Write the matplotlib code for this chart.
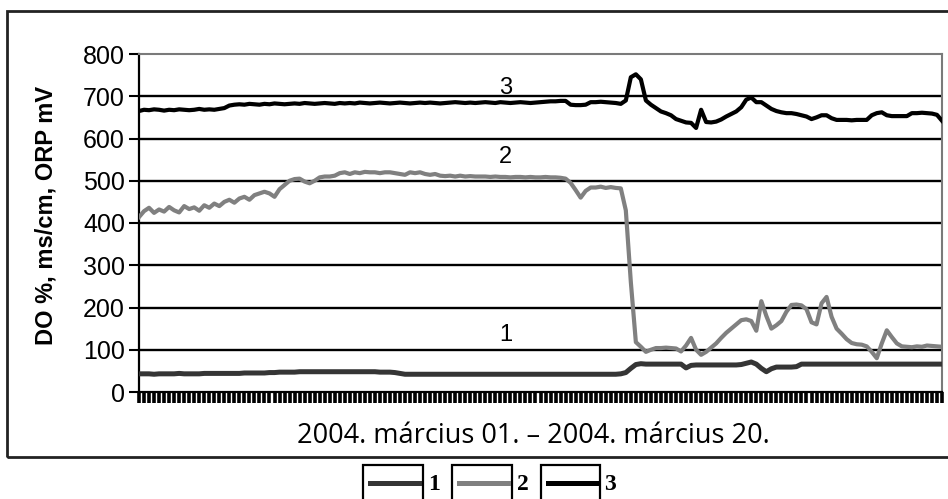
import matplotlib
matplotlib.use('Agg')
import matplotlib.pyplot as plt
from matplotlib.patches import Rectangle
from matplotlib.lines import Line2D
import numpy as np

# ---------------- data ----------------
yticks = [0, 100, 200, 300, 400, 500, 600, 700, 800]
ytick_labels = ["0", "100", "200", "300", "400", "500", "600", "700", "800"]
series_names = ["1", "2", "3"]
xlabel = "2004. március 01. – 2004. március 20."
ylabel = "DO %, ms/cm, ORP mV"

# series 1: DO %
s1 = [43, 43, 43, 42, 43, 43, 43, 43, 44, 43, 43, 43, 43, 44, 44, 44, 44, 44,
      44, 44, 44, 45, 45, 45, 45, 45, 46, 46, 47, 47,
      47, 47, 48, 48, 48, 48, 48, 48, 48, 48, 48, 48,
      48, 48, 48, 48, 48, 48, 47, 47, 47, 46, 44, 42,
      42, 42, 42, 42, 42, 42, 42, 42, 42, 42, 42, 42,
      42, 42, 42, 42, 42, 42, 42, 42, 42, 42, 42, 42,
      42, 42, 42, 42, 42, 42,
      42, 42, 42, 42, 42, 42, 42, 42, 42, 42, 42, 42, 43, 46,
      56, 65, 67, 66,
      66, 66, 66, 66, 66, 66, 66, 57, 63, 64, 64, 64,
      64, 64, 64, 64, 64, 64, 65, 68, 71, 66, 56, 48,
      55, 59, 59, 59, 59, 60, 66, 66, 66, 66, 66, 66,
      66, 66, 66, 66, 66, 66, 66, 66, 66, 66, 66, 66,
      66, 66, 66, 66, 66, 66, 66, 66, 66, 66, 66]

# series 2: conductivity ms/cm
s2 = [414, 428, 436, 424, 432, 427, 438, 430, 425, 440, 433, 437, 429, 442, 436, 446, 440, 450,
      455, 448, 458, 462, 455, 466, 470, 474, 470, 462, 480, 490,
      500, 504, 505, 498, 494, 500, 508, 510, 510, 512, 518, 520,
      516, 520, 518, 521, 520, 520, 518, 520, 520, 518, 516, 514,
      520, 518, 520, 516, 514, 516, 512, 511, 512, 510, 512, 510,
      511, 510, 510, 510, 509, 510, 509, 509, 508, 509, 509, 508,
      509, 508, 508, 509, 508, 508,
      507, 505, 495, 478, 460, 476, 484, 484, 486, 483, 485, 483, 482, 430,
      260, 118, 107, 95,
      100, 104, 104, 105, 104, 103, 96, 110, 128, 100, 88, 95,
      105, 115, 128, 140, 150, 160, 170, 172, 168, 145, 215, 180,
      150, 158, 168, 190, 206, 207, 205, 196, 165, 160, 210, 225,
      178, 150, 138, 125, 116, 113, 112, 108, 95, 80, 115, 146,
      130, 115, 108, 107, 106, 108, 107, 110, 109, 108, 107]

# series 3: ORP mV
s3 = [665, 668, 667, 669, 668, 666, 668, 667, 669, 668, 667, 668, 670, 668, 669, 668, 670, 672,
      678, 680, 681, 680, 682, 681, 680, 682, 681, 683, 682, 681,
      682, 683, 682, 684, 683, 682, 683, 684, 683, 682, 684, 683,
      684, 683, 685, 684, 683, 684, 685, 684, 683, 684, 685, 684,
      683, 684, 685, 684, 685, 684, 683, 684, 685, 686, 685, 684,
      685, 684, 685, 686, 685, 684, 686, 685, 684, 685, 686, 685,
      684, 685, 686, 687, 688, 688,
      689, 689, 680, 679, 679, 680, 686, 686, 687, 686, 685, 684, 682, 690,
      745, 752, 740, 690,
      680, 672, 664, 660, 655, 646, 642, 638, 637, 625, 668, 639,
      638, 640, 645, 652, 658, 664, 674, 692, 697, 686, 686, 678,
      670, 665, 662, 660, 660, 658, 655, 652, 646, 650, 655, 655,
      648, 644, 644, 644, 643, 644, 644, 644, 655, 660, 662, 655,
      653, 653, 653, 653, 660, 660, 661, 660, 659, 656, 642]

colors = ["#353535", "#808080", "#000000"]

# ---------------- figure ----------------
W, H = 948, 499
fig = plt.figure(figsize=(W / 100, H / 100), dpi=100)
fig.patch.set_facecolor('white')

L, R, T, B = 139, 942, 54, 392
ax = fig.add_axes([L / W, 1 - B / H, (R - L) / W, (B - T) / H])

x = np.arange(len(s1))
for v in yticks[1:-1]:
    ax.axhline(v, color='black', lw=1.7, zorder=1)

ax.plot(x, s1, color=colors[0], lw=3.6, zorder=3, solid_joinstyle='round')
ax.plot(x, s2, color=colors[1], lw=3.0, zorder=3, solid_joinstyle='round')
ax.plot(x, s3, color=colors[2], lw=3.0, zorder=4, solid_joinstyle='round')

ax.set_xlim(0, len(x) - 1)
ax.set_ylim(0, 800)
ax.set_yticks(yticks)
ax.set_yticklabels(ytick_labels, fontsize=18, family='Liberation Sans')
ax.set_xticks(x)
ax.set_xticklabels([])
ax.tick_params(axis='x', direction='out', length=8, width=2.6, color='black')
ax.tick_params(axis='y', direction='out', length=7, width=1.5, color='black', pad=3)

for s in ['left', 'bottom']:
    ax.spines[s].set_color('black')
    ax.spines[s].set_linewidth(1.6)
for s in ['top', 'right']:
    ax.spines[s].set_color('#7a7a7a')
    ax.spines[s].set_linewidth(1.5)

# in-plot series labels
for xi, yv, t in [(73, 719, "3"), (73, 556, "2"), (73, 135, "1")]:
    ax.text(xi, yv, t, ha='center', va='center', fontsize=17,
            family='Liberation Sans', zorder=5)

# axis labels
fig.text(46 / W, 1 - 215 / H, ylabel, rotation=90, ha='center', va='center',
         fontsize=17, fontweight='bold', family='Liberation Sans')
fig.text(533 / W, 1 - 436 / H, xlabel, ha='center', va='center',
         fontsize=19.5, family='Open Sans')

# outer frame
fig.patches.append(Rectangle((7 / W, 1 - 457 / H), (960 - 7) / W, (457 - 11) / H,
                             transform=fig.transFigure, fill=False, lw=2.0,
                             ec='#222222', clip_on=False))

# legend boxes below the frame
boxes = [(363, 423, 428), (452, 512, 517), (541, 600, 604)]
for (bx0, bx1, tx), name, col in zip(boxes, series_names, colors):
    fig.patches.append(Rectangle((bx0 / W, 1 - 515 / H), (bx1 - bx0) / W, (515 - 465) / H,
                                 transform=fig.transFigure, fill=False, lw=1.6,
                                 ec='black', clip_on=False))
    fig.lines.append(Line2D([(bx0 + 7) / W, (bx1 - 4) / W], [1 - 483 / H, 1 - 483 / H],
                            transform=fig.transFigure, color=col, lw=3.6))
    fig.text(tx / W, 1 - 484 / H, name, ha='left', va='center', fontsize=17,
             fontweight='bold', family='Liberation Serif')

fig.savefig('out.png', dpi=100)
